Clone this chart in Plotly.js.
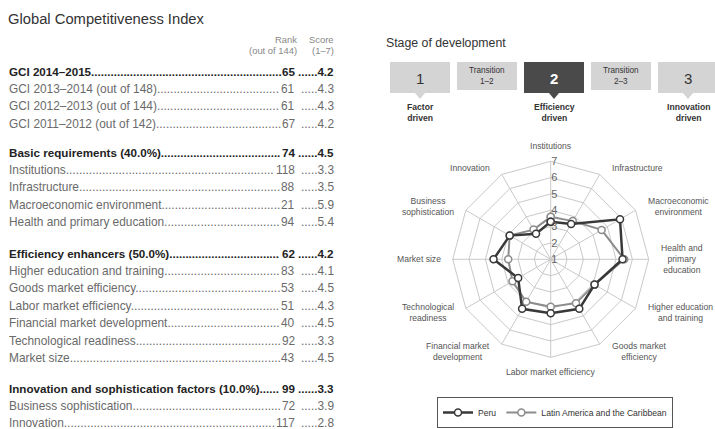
<!DOCTYPE html>
<html><head><meta charset="utf-8">
<script src="https://cdn.plot.ly/plotly-3.0.1.min.js"></script>
<style>html,body{margin:0;padding:0;background:#fff}#chart{width:715px;height:429px}</style>
</head><body><div id="chart"></div>
<script>
// ---------------- DATA ----------------
const tableLabels = [
  "GCI 2014–2015", "GCI 2013–2014 (out of 148)", "GCI 2012–2013 (out of 144)", "GCI 2011–2012 (out of 142)",
  "Basic requirements (40.0%)", "Institutions", "Infrastructure", "Macroeconomic environment", "Health and primary education",
  "Efficiency enhancers (50.0%)", "Higher education and training", "Goods market efficiency", "Labor market efficiency",
  "Financial market development", "Technological readiness", "Market size",
  "Innovation and sophistication factors (10.0%)", "Business sophistication", "Innovation"
];
const tableRanks = [65, 61, 61, 67, 74, 118, 88, 21, 94, 62, 83, 53, 51, 40, 92, 43, 99, 72, 117];
const tableScores = ["4.2", "4.3", "4.3", "4.2", "4.5", "3.3", "3.5", "5.9", "5.4", "4.2", "4.1", "4.5", "4.3", "4.5", "3.3", "4.5", "3.3", "3.9", "2.8"];
const headerRows = [0, 4, 9, 16];

const pillars = ["Institutions", "Infrastructure", "Macroeconomic environment", "Health and primary education",
  "Higher education and training", "Goods market efficiency", "Labor market efficiency",
  "Financial market development", "Technological readiness", "Market size", "Business sophistication", "Innovation"];
const pillarTickText = ["Institutions", "Infrastructure", "Macroeconomic<br>environment", "Health and<br>primary<br>education",
  "Higher education<br>and training", "Goods market<br>efficiency", "Labor market efficiency",
  "Financial market<br>development", "Technological<br>readiness", "Market size", "Business<br>sophistication", "Innovation"];
const peruScores = [3.3, 3.5, 5.9, 5.4, 4.1, 4.5, 4.3, 4.5, 3.3, 4.5, 3.9, 2.8];
const lacScores  = [3.6, 3.7, 4.6, 5.5, 4.1, 4.1, 3.9, 4.0, 3.7, 3.6, 3.9, 3.1];
const radialTicks = [1, 2, 3, 4, 5, 6, 7];
const seriesNames = ["Peru", "Latin America and the Caribbean"];

const stageNames = ["1", "Transition<br>1–2", "2", "Transition<br>2–3", "3"];
const stageDrivers = ["Factor<br>driven", "", "Efficiency<br>driven", "", "Innovation<br>driven"];
const currentStage = 2;

// ---------------- LAYOUT HELPERS ----------------
const W = 715, H = 429;
const px = x => x / W, py = y => 1 - y / H;
const cv = document.createElement('canvas').getContext('2d');
function hasFont(f) {
  const s = 'Global Competitiveness 2014';
  cv.font = '40px monospace'; const a = cv.measureText(s).width;
  cv.font = `40px '${f}', monospace`; const b = cv.measureText(s).width;
  return Math.abs(a - b) > 0.5;
}
const NARROW = hasFont('Liberation Sans Narrow');
const FAM = NARROW ? "'Liberation Sans Narrow', 'Liberation Sans', Arial, sans-serif" : "'Liberation Sans', Arial, sans-serif";
const K = NARROW ? 1 : 0.82;
function tw(t, size, bold) { cv.font = `${bold ? 'bold ' : ''}${size}px ${FAM}`; return cv.measureText(t).width; }

const annotations = [];
const shapes = [];
function ann(text, x, y, o) {
  o = o || {};
  annotations.push(Object.assign({
    text, x: px(x), y: py(y), xref: 'paper', yref: 'paper', showarrow: false,
    xanchor: 'left', yanchor: 'middle', borderpad: 0,
    font: { family: FAM, size: 12 * K, color: '#333' }
  }, o));
}

// ---------- left table ----------
ann("Global Competitiveness Index", 7, 19, { font: { family: FAM, size: 18 * K, color: '#333' } });
const smallHdr = { family: FAM, size: 11.5 * K, color: '#888' };
ann("Rank", 298, 40, { xanchor: 'right', font: smallHdr });
ann("(out of 144)", 298, 51, { xanchor: 'right', font: smallHdr });
ann("Score", 335, 40, { xanchor: 'right', font: smallHdr });
ann("(1–7)", 335, 51, { xanchor: 'right', font: smallHdr });

const groupStartY = [71, 152, 253, 388];
const rowY = [];
{
  let g = -1, y = 0;
  for (let i = 0; i < tableLabels.length; i++) {
    if (headerRows.includes(i)) { g++; y = groupStartY[g]; }
    else if (headerRows.includes(i - 1)) { y += 18; }
    else { y += 17.4; }
    rowY.push(y);
  }
}
const LABEL_X = 8, RANK_R = 296, SCORE_R = 335;
tableLabels.forEach((lab, i) => {
  const hdr = headerRows.includes(i);
  const size = (hdr ? 14.2 : 14.5) * K;
  const col = hdr ? '#222' : '#6a6a6a';
  const bold = hdr;
  const font = { family: FAM, size, color: col, weight: bold ? 'bold' : 'normal' };
  const rankTxt = String(tableRanks[i]);
  const dotW = tw('.', size, bold);
  const labW = tw(lab, size, bold);
  const rankL = RANK_R - tw(rankTxt, size, bold);
  const n1 = Math.max(0, Math.floor((rankL - 2 - LABEL_X - labW) / dotW));
  ann(lab + '.'.repeat(n1), LABEL_X, rowY[i], { font });
  ann(rankTxt, RANK_R, rowY[i], { xanchor: 'right', font });
  const scW = tw(tableScores[i], size, bold);
  const n2 = Math.max(0, Math.floor((SCORE_R - scW - RANK_R - 3) / dotW));
  ann('.'.repeat(n2) + tableScores[i], SCORE_R, rowY[i], { xanchor: 'right', font });
});

// ---------- stage of development ----------
ann("Stage of development", 385, 43, { font: { family: FAM, size: 15 * K, color: '#333' } });
stageNames.forEach((name, i) => {
  const left = 390 + i * 67, right = Math.min(left + 60, W), top = 62;
  const numbered = stageDrivers[i] !== "";
  const bottom = numbered ? 93 : 90;
  const cur = i === currentStage;
  const fill = cur ? '#4a4a4a' : '#d4d4d4';
  shapes.push({ type: 'rect', xref: 'paper', yref: 'paper', x0: px(left), x1: px(right), y0: py(bottom), y1: py(top),
    fillcolor: fill, line: { width: 0 }, layer: 'below' });
  const cx = (left + left + 60) / 2;
  if (numbered) {
    shapes.push({ type: 'path', xref: 'paper', yref: 'paper', layer: 'below',
      path: `M${px(cx - 5)},${py(bottom)} L${px(cx + 5)},${py(bottom)} L${px(cx)},${py(bottom + 6)} Z`,
      fillcolor: fill, line: { width: 0 } });
    ann(name, cx, (top + bottom) / 2 + 1, { xanchor: 'center',
      font: { family: FAM, size: 15, color: cur ? '#ffffff' : '#333', weight: cur ? 'bold' : 'normal' } });
    ann(stageDrivers[i], cx, 112, { xanchor: 'center',
      font: { family: FAM, size: 10.5 * K, color: '#333', weight: 'bold' } });
  } else {
    ann(name, cx, (top + bottom) / 2, { xanchor: 'center', font: { family: FAM, size: 10 * K, color: '#333' } });
  }
});

// ---------- radar ----------
const CX = 550.7, CY = 259.3, R = 98;
// category labels around the radar, centred text like the original
pillars.forEach((p, i) => {
  const th = i * 2 * Math.PI / pillars.length;
  const s = Math.sin(th), c = Math.cos(th);
  const vx = CX + R * s, vy = CY - R * c;
  const f = { family: FAM, size: 10.5 * K, color: '#555' };
  if (Math.abs(s) < 0.2) {
    ann(pillarTickText[i], vx, c > 0 ? vy - 9 : vy + 9, { xanchor: 'center', yanchor: c > 0 ? 'bottom' : 'top', align: 'center', font: f });
  } else {
    ann(pillarTickText[i], vx + (s > 0 ? 11 : -11), vy - c * 8, { xanchor: s > 0 ? 'left' : 'right', yanchor: 'middle', align: 'center', font: f });
  }
});

const closeR = a => a.concat([a[0]]);
const closeT = pillars.concat([pillars[0]]);
const traces = [
  { type: 'scatterpolar', name: seriesNames[1], r: closeR(lacScores), theta: closeT, mode: 'lines+markers',
    line: { color: '#8c8c8c', width: 2 }, marker: { symbol: 'circle', size: 7, color: '#fff', line: { color: '#8c8c8c', width: 1.5 } },
    legendrank: 2, hoverinfo: 'skip' },
  { type: 'scatterpolar', name: seriesNames[0], r: closeR(peruScores), theta: closeT, mode: 'lines+markers',
    line: { color: '#383838', width: 2.5 }, marker: { symbol: 'circle', size: 7, color: '#fff', line: { color: '#383838', width: 1.5 } },
    legendrank: 1, hoverinfo: 'skip' }
];

const layout = {
  width: W, height: H, margin: { l: 0, r: 0, t: 0, b: 0 }, paper_bgcolor: '#fff',
  font: { family: FAM, color: '#333' },
  showlegend: true,
  legend: { orientation: 'h', x: px(437), y: py(397), xanchor: 'left', yanchor: 'top',
    bordercolor: '#555', borderwidth: 1, bgcolor: '#fff', itemwidth: 30,
    font: { family: FAM, size: 10.5 * K, color: '#333' } },
  polar: {
    domain: { x: [px(CX - R), px(CX + R)], y: [py(CY + R), py(CY - R)] },
    gridshape: 'linear', bgcolor: 'rgba(0,0,0,0)',
    radialaxis: { range: [1, 7], tickvals: radialTicks, angle: 90, tickangle: 90, showline: false, ticks: '',
      gridcolor: '#c9c9c9', gridwidth: 1, tickfont: { family: FAM, size: 11, color: '#666' } },
    angularaxis: { type: 'category', direction: 'clockwise', rotation: 90, categoryarray: pillars,
      showticklabels: false, ticks: '',
      gridcolor: '#c9c9c9', linecolor: '#c9c9c9', showline: true }
  },
  annotations, shapes
};
Plotly.newPlot('chart', traces, layout, { displayModeBar: false, staticPlot: true });
</script></body></html>
